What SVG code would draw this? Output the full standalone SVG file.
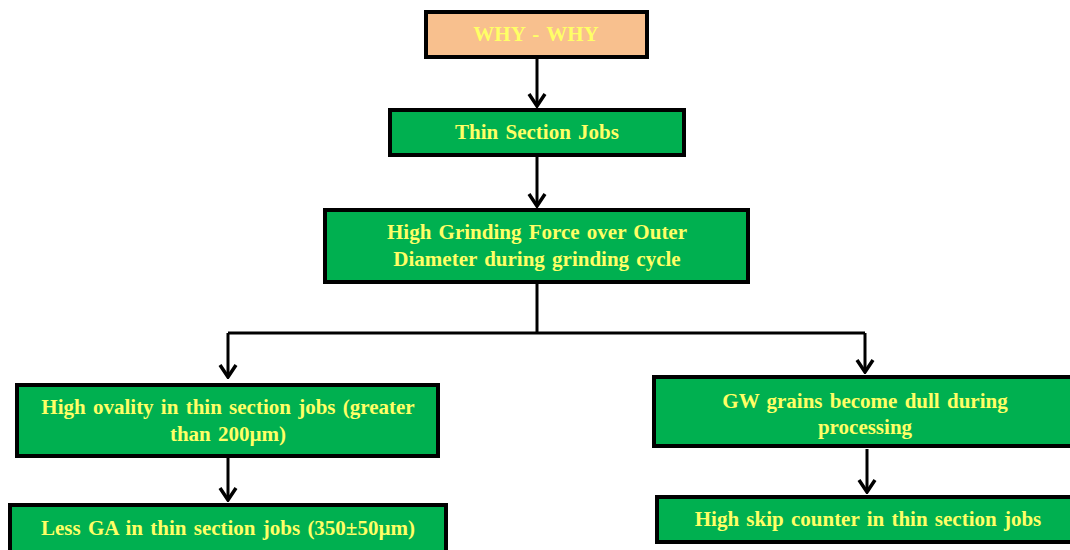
<svg xmlns="http://www.w3.org/2000/svg" width="1070" height="550" viewBox="0 0 1070 550">
  <defs>
    <style>
      .box { fill: #00B050; stroke: #000; stroke-width: 4; }
      .head { fill: #F8C08E; stroke: #000; stroke-width: 4; }
      .lbl { font-family: "Liberation Serif", "Times New Roman", serif; font-weight: bold; font-size: 21px; word-spacing: 2px; fill: #FFFF66; text-anchor: middle; }
      .wire { fill: none; stroke: #000; stroke-width: 3; }
      .tip { fill: none; stroke: #000; stroke-width: 3.5; stroke-linecap: butt; stroke-linejoin: miter; }
    </style>
    <marker id="chev" viewBox="-14 -10 16 20" refX="0" refY="0" markerWidth="16" markerHeight="20" markerUnits="userSpaceOnUse" orient="auto">
      <path class="tip" d="M-12,-8 L0,0 L-12,8"/>
    </marker>
  </defs>

  <!-- connectors -->
  <g id="connectors">
    <path class="wire" d="M537,58 V106" marker-end="url(#chev)"/>
    <path class="wire" d="M537,157 V206" marker-end="url(#chev)"/>
    <path class="wire" d="M537,284 V333"/>
    <path class="wire" d="M228,333 H865"/>
    <path class="wire" d="M228,333 V377" marker-end="url(#chev)"/>
    <path class="wire" d="M865,333 V372" marker-end="url(#chev)"/>
    <path class="wire" d="M228,458 V500" marker-end="url(#chev)"/>
    <path class="wire" d="M867,449 V492" marker-end="url(#chev)"/>
  </g>

  <g id="why-why">
    <rect class="head" x="426" y="12" width="221" height="45"/>
    <text class="lbl" x="536" y="41">WHY - WHY</text>
  </g>

  <g id="thin-section">
    <rect class="box" x="390" y="110" width="294" height="45"/>
    <text class="lbl" x="537" y="139">Thin Section Jobs</text>
  </g>

  <g id="grinding-force">
    <rect class="box" x="325" y="210" width="423" height="72"/>
    <text class="lbl" x="537" y="239">High Grinding Force over Outer</text>
    <text class="lbl" x="537" y="266">Diameter during grinding cycle</text>
  </g>

  <g id="ovality">
    <rect class="box" x="17" y="385" width="421" height="71"/>
    <text class="lbl" x="228" y="414">High ovality in thin section jobs (greater</text>
    <text class="lbl" x="228" y="441">than 200µm)</text>
  </g>

  <g id="less-ga">
    <rect class="box" x="10" y="505" width="436" height="60"/>
    <text class="lbl" x="228" y="535">Less GA in thin section jobs (350±50µm)</text>
  </g>

  <g id="dull-grains">
    <rect class="box" x="654" y="377" width="430" height="69"/>
    <text class="lbl" x="865" y="408">GW grains become dull during</text>
    <text class="lbl" x="865" y="434">processing</text>
  </g>

  <g id="skip-counter">
    <rect class="box" x="657" y="497" width="427" height="45"/>
    <text class="lbl" x="868" y="526">High skip counter in thin section jobs</text>
  </g>
</svg>
